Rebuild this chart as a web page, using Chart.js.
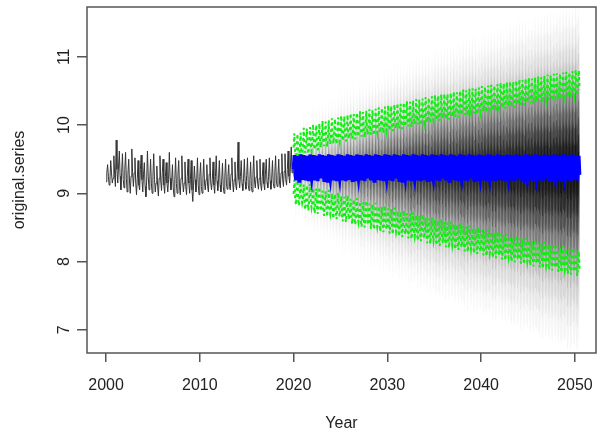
<!DOCTYPE html>
<html>
<head>
<meta charset="utf-8">
<script src="https://cdn.jsdelivr.net/npm/chart.js@4.4.0/dist/chart.umd.min.js"></script>
<style>
  html, body { margin: 0; padding: 0; background: #fff; }
</style>
</head>
<body>
<canvas id="chart" width="604" height="439"></canvas>
<script>
// ── Observed series, monthly from Jan 2000 (one row per year) ──
const HIST_START = 2000;
const history = [
  9.17, 9.30, 9.42, 9.25, 9.12, 9.20, 9.48, 9.30, 9.15, 9.22, 9.55, 9.28,
  9.10, 9.78, 9.35, 9.15, 9.40, 9.62, 9.25, 9.05, 9.30, 9.58, 9.20, 9.08,
  9.35, 9.60, 9.22, 9.02, 9.28, 9.50, 9.18, 9.00, 9.25, 9.65, 9.30, 9.10,
  9.30, 9.52, 9.15, 8.98, 9.22, 9.48, 9.12, 9.05, 9.35, 9.56, 9.20, 9.02,
  9.28, 9.45, 9.10, 8.95, 9.18, 9.62, 9.25, 9.05, 9.20, 9.50, 9.15, 9.00,
  9.25, 9.58, 9.20, 9.02, 9.15, 9.40, 9.10, 8.96, 9.22, 9.55, 9.18, 9.04,
  9.30, 9.50, 9.12, 9.00, 9.25, 9.45, 9.15, 9.02, 9.20, 9.60, 9.22, 9.05,
  9.18, 9.42, 9.08, 8.95, 9.20, 9.52, 9.14, 9.00, 9.28, 9.48, 9.10, 8.98,
  9.22, 9.55, 9.18, 9.02, 9.15, 9.46, 9.10, 8.98, 9.25, 9.50, 9.15, 9.00,
  9.20, 9.48, 9.05, 8.88, 9.12, 9.40, 9.20, 9.02, 9.18, 9.52, 9.12, 8.98,
  9.25, 9.45, 9.10, 9.00, 9.22, 9.50, 9.15, 9.05, 9.20, 9.42, 9.10, 9.02,
  9.28, 9.52, 9.15, 9.05, 9.20, 9.46, 9.12, 9.00, 9.25, 9.55, 9.18, 9.04,
  9.22, 9.48, 9.12, 9.02, 9.18, 9.44, 9.10, 9.00, 9.24, 9.50, 9.15, 9.06,
  9.25, 9.42, 9.10, 9.05, 9.28, 9.52, 9.16, 9.02, 9.20, 9.46, 9.12, 9.05,
  9.30, 9.75, 9.20, 9.08, 9.25, 9.48, 9.14, 9.04, 9.22, 9.50, 9.16, 9.06,
  9.26, 9.52, 9.12, 9.04, 9.20, 9.46, 9.10, 9.02, 9.28, 9.55, 9.18, 9.08,
  9.24, 9.48, 9.15, 9.06, 9.22, 9.50, 9.12, 9.04, 9.25, 9.45, 9.14, 9.05,
  9.28, 9.50, 9.16, 9.08, 9.25, 9.52, 9.18, 9.06, 9.22, 9.48, 9.15, 9.08,
  9.30, 9.55, 9.18, 9.10, 9.26, 9.50, 9.15, 9.08, 9.30, 9.58, 9.20, 9.10,
  9.32, 9.58, 9.20, 9.12, 9.35, 9.62, 9.25, 9.15, 9.40, 9.68, 9.30, 9.45
];

// ── Forecast: monthly point forecast (repeats each year), 2020.0 to 2050.5 ──
const FC_START = 2020;
const FC_MONTHS = 367;
const fcSeasonal = [9.35, 9.56, 9.28, 9.19, 9.36, 9.55, 9.27, 9.18, 9.34, 9.57, 9.30, 9.22];
// distance of the green bounds from the forecast, one value per year 2020..2050
const upperWidth = [
  0.32, 0.40, 0.45, 0.50, 0.54, 0.58, 0.61, 0.64, 0.67, 0.70,
  0.73, 0.76, 0.79, 0.82, 0.85, 0.88, 0.90, 0.93, 0.96, 0.98,
  1.01, 1.03, 1.06, 1.08, 1.11, 1.13, 1.15, 1.18, 1.20, 1.22, 1.25
];
const lowerWidth = [
  0.36, 0.43, 0.48, 0.52, 0.56, 0.60, 0.64, 0.68, 0.71, 0.75,
  0.78, 0.82, 0.85, 0.88, 0.92, 0.95, 0.98, 1.01, 1.04, 1.07,
  1.10, 1.13, 1.16, 1.19, 1.22, 1.25, 1.28, 1.31, 1.34, 1.37, 1.40
];
// fan shading levels (relative to green bounds), outer to inner
const fanLevels = [1.8, 1.55, 1.35, 1.15, 1.0, 0.8, 0.6, 0.4, 0.2];
const fanAlpha  = [0.04, 0.06, 0.08, 0.12, 0.18, 0.25, 0.35, 0.45, 0.5];

const xTicks = [2000, 2010, 2020, 2030, 2040, 2050];
const yTicks = [7, 8, 9, 10, 11];

const FONT = '"Liberation Sans", Arial, sans-serif';
const TEXT = '#222';
const AXIS = '#555';
const FAN_FADE_START = 0.1;   // fan is paler near 2020

// ── Build points ──
const histPts = history.map((v, i) => ({ x: HIST_START + i / 12, y: v }));

const meanPts = [], upPts = [], loPts = [];
const fanUp = fanLevels.map(() => []);
const fanLo = fanLevels.map(() => []);
for (let m = 0; m < FC_MONTHS; m++) {
  const x = FC_START + m / 12;
  const yr = Math.min(Math.floor(m / 12), upperWidth.length - 1);
  const mean = fcSeasonal[m % 12];
  meanPts.push({ x, y: mean });
  upPts.push({ x, y: mean + upperWidth[yr] });
  loPts.push({ x, y: mean - lowerWidth[yr] });
  fanLevels.forEach((k, j) => {
    fanUp[j].push({ x, y: mean + k * upperWidth[yr] });
    fanLo[j].push({ x, y: mean - k * lowerWidth[yr] });
  });
}

const line = (data, color, width, order, extra = {}) => Object.assign({
  data, borderColor: color, borderWidth: width, pointRadius: 0,
  tension: 0, fill: false, order
}, extra);

function fanColor(alpha) {
  return ctx => {
    const { chart } = ctx;
    if (!chart.chartArea) return `rgba(0,0,0,${alpha})`;
    const sx = chart.scales.x;
    const x0 = sx.getPixelForValue(FC_START);
    const x1 = sx.getPixelForValue(FC_START + (FC_MONTHS - 1) / 12);
    const g = chart.ctx.createLinearGradient(x0, 0, x1, 0);
    g.addColorStop(0, `rgba(0,0,0,${alpha * FAN_FADE_START})`);
    g.addColorStop(0.45, `rgba(0,0,0,${alpha * 0.65})`);
    g.addColorStop(1, `rgba(0,0,0,${alpha})`);
    return g;
  };
}

const datasets = [
  line(meanPts, '#0000ff', 3.5, 0),
  line(upPts, '#11ee11', 2, 1, { borderDash: [3, 3] }),
  line(loPts, '#11ee11', 2, 1, { borderDash: [3, 3] }),
  line(histPts, '#333', 1, 2),
];
fanLevels.forEach((k, j) => {
  const idx = datasets.length;
  datasets.push(line(fanUp[j], 'rgba(0,0,0,0)', 0, 5 + j, {
    fill: { target: idx + 1 },
    backgroundColor: fanColor(fanAlpha[j])
  }));
  datasets.push(line(fanLo[j], 'rgba(0,0,0,0)', 0, 5 + j));
});

// ── R style frame and rotated y labels ──
const rFrame = {
  id: 'rFrame',
  afterDraw(chart) {
    const { ctx, chartArea: a, scales } = chart;
    ctx.save();
    ctx.strokeStyle = AXIS;
    ctx.lineWidth = 1.5;
    ctx.strokeRect(a.left, a.top, a.right - a.left, a.bottom - a.top);
    ctx.fillStyle = TEXT;
    ctx.font = `16px ${FONT}`;
    ctx.textAlign = 'center';
    ctx.textBaseline = 'alphabetic';
    yTicks.forEach(v => {
      const y = scales.y.getPixelForValue(v);
      ctx.save();
      ctx.translate(a.left - 18, y);
      ctx.rotate(-Math.PI / 2);
      ctx.fillText(String(v), 0, 0);
      ctx.restore();
    });
    ctx.restore();
  }
};

new Chart(document.getElementById('chart'), {
  type: 'line',
  data: { datasets },
  plugins: [rFrame],
  options: {
    responsive: false,
    animation: false,
    events: [],
    normalized: true,
    layout: { padding: { top: 7, right: 8, left: 0, bottom: 0 } },
    plugins: { legend: { display: false }, tooltip: { enabled: false } },
    scales: {
      x: {
        type: 'linear',
        min: 1997.97,
        max: 2052.25,
        afterBuildTicks: s => { s.ticks = xTicks.map(v => ({ value: v })); },
        afterFit: s => { s.height = 86; s.paddingLeft = 0; s.paddingRight = 0; },
        grid: { drawOnChartArea: false, drawTicks: true, tickLength: 9, color: AXIS, lineWidth: 1.5 },
        border: { display: false },
        ticks: { color: TEXT, font: { family: FONT, size: 16 }, padding: 14, maxRotation: 0, callback: v => String(v) },
        title: { display: true, text: 'Year', color: TEXT, font: { family: FONT, size: 16 }, padding: { top: 0, bottom: 6 } }
      },
      y: {
        type: 'linear',
        min: 6.66,
        max: 11.73,
        afterBuildTicks: s => { s.ticks = yTicks.map(v => ({ value: v })); },
        afterFit: s => { s.width = 87; s.paddingTop = 0; s.paddingBottom = 0; },
        grid: { drawOnChartArea: false, drawTicks: true, tickLength: 10, color: AXIS, lineWidth: 1.5 },
        border: { display: false },
        ticks: { display: false },
        title: { display: true, text: 'original.series', color: TEXT, font: { family: FONT, size: 16 }, padding: { top: 10, bottom: 0 } }
      }
    }
  }
});
</script>
</body>
</html>
